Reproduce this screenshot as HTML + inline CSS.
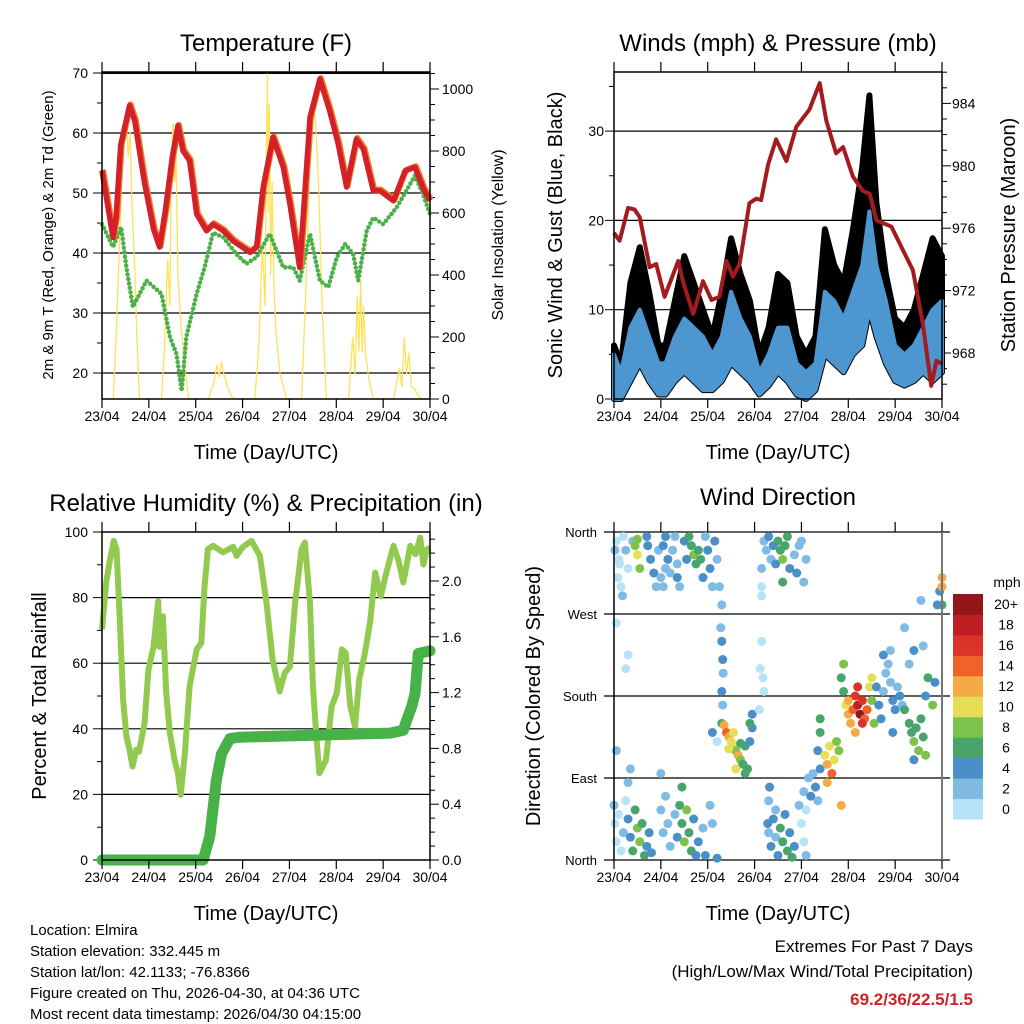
<!DOCTYPE html>
<html><head><meta charset="utf-8"><style>
body{margin:0;background:#fff;}
svg{display:block;font-family:"Liberation Sans",Arial,sans-serif;}
</style></head><body>
<svg id="chart" width="1024" height="1024" viewBox="0 0 1024 1024" xmlns="http://www.w3.org/2000/svg"></svg>
<script>
// ---- Temperature data ----
const tempT=[0,0.235,0.3,0.4,0.59,0.7,0.9,1.1,1.23,1.35,1.5,1.62,1.73,1.87,2.02,2.23,2.37,2.59,2.8,3.16,3.3,3.44,3.65,3.87,4.01,4.22,4.44,4.65,4.86,5.04,5.22,5.43,5.58,5.79,5.93,6.22,6.47,6.68,6.86,7.0];
const tempV=[53.7,42.6,46,58,64.6,62,52,44,41,47,56,61.2,57,55.4,46.5,43.7,44.8,43.7,42,40.1,41,51,59.3,54.3,48.2,37.6,62.6,69,63.7,58.2,51,59,57.3,50.4,50.4,48.7,53.7,54.3,50.7,48.7];
const dewT=[0,0.235,0.41,0.52,0.66,0.95,1.27,1.45,1.59,1.7,1.8,2.02,2.19,2.37,2.59,2.87,3.08,3.3,3.58,3.87,4.08,4.22,4.44,4.65,4.83,5.01,5.19,5.36,5.47,5.65,5.79,6.0,6.29,6.68,6.86,7.0];
const dewV=[44.8,41,44.3,37.6,31,35.4,33.2,26,23.2,17,26,33.2,37.6,43.4,42.6,39.8,38.2,39.3,43.2,37.6,37.6,35.4,43.2,35.4,34.3,39.3,41.5,39.8,35.4,43.7,45.9,44.8,47.6,52.9,49.6,46.5];
const solarT=[0,0.24,0.3,0.36,0.42,0.48,0.52,0.56,0.6,0.64,0.7,0.75,0.8,1.27,1.33,1.4,1.45,1.48,1.52,1.55,1.58,1.62,1.68,1.75,1.85,2.27,2.4,2.45,2.5,2.55,2.6,2.7,2.8,3.26,3.35,3.42,3.48,3.5,3.53,3.55,3.57,3.6,3.63,3.67,3.72,3.8,3.94,4.26,4.35,4.42,4.5,4.55,4.62,4.7,4.79,5.26,5.35,5.4,5.45,5.48,5.52,5.55,5.58,5.62,5.7,5.79,6.22,6.35,6.4,6.45,6.5,6.55,6.6,6.68,6.75,6.82,7.0];
const solarV=[0,0,200,450,700,850,890,780,860,620,420,180,0,0,150,450,300,780,890,700,800,400,250,120,0,0,60,110,70,120,80,30,0,0,180,500,300,700,1050,600,950,400,700,350,200,80,0,0,350,700,900,920,700,300,0,0,200,80,330,150,380,150,300,150,60,0,0,100,40,200,80,150,40,30,10,0,0];
const tempTicks=[20,30,40,50,60,70];
const solarTicks=[0,200,400,600,800,1000];
const dayLabels=["23/04","24/04","25/04","26/04","27/04","28/04","29/04","30/04"];
// ---- Wind data ----
const windT=[0,0.15,0.35,0.55,0.75,0.95,1.1,1.3,1.5,1.7,1.9,2.1,2.3,2.5,2.7,2.9,3.1,3.3,3.5,3.7,3.9,4.1,4.3,4.5,4.7,4.9,5.1,5.3,5.45,5.6,5.8,6.0,6.2,6.4,6.6,6.8,7.0];
const windLo=[0,0,2,4,2,0.5,0.5,2,3,2,1,1,2,4,3,2,0.5,1.5,3,2,0.5,0,1,5,4,3,5,6,10,7,4,2,1.5,2,3,2,3];
const windHi=[5,3,8,10,7,4,4,7,9,8,7,5,7,12,9,7,3,5,8,8,4,3,4,12,11,9,12,15,21,15,11,6,5,6,8,10,11];
const gustHi=[6,4,13,17,12,6,6,11,16,13,10,7,12,18,14,11,5,8,14,13,7,5,7,19,15,13,19,26,34,22,14,9,8,10,14,18,16];
const presT=[0,0.12,0.3,0.44,0.55,0.76,0.9,1.08,1.37,1.47,1.69,1.9,2.08,2.25,2.4,2.54,2.68,2.89,3.04,3.14,3.29,3.46,3.68,3.89,4.17,4.39,4.53,4.74,4.89,5.1,5.31,5.46,5.6,5.92,6.1,6.38,6.59,6.77,6.88,7.0];
const presV=[975.7,975.2,977.3,977.2,976.7,973.5,973.7,971.6,973.9,972.6,970.5,972.6,971.4,971.6,973.9,972.9,973.7,977.6,977.9,977.8,980.1,981.7,980.3,982.5,983.6,985.3,982.9,980.8,981.2,979.3,978.4,978.2,976.5,976.1,975.0,973.3,969.9,965.9,967.5,967.3];
const windTicks=[0,10,20,30];
const presTicks=[968,972,976,980,984];
// ---- RH / precip ----
const rhT=[0,0.09,0.16,0.25,0.31,0.38,0.45,0.52,0.59,0.65,0.73,0.79,0.91,0.99,1.1,1.2,1.23,1.3,1.37,1.45,1.55,1.62,1.68,1.77,1.87,2.02,2.12,2.19,2.26,2.37,2.58,2.8,2.87,3.01,3.19,3.37,3.51,3.64,3.79,3.9,4.01,4.12,4.26,4.33,4.44,4.5,4.58,4.64,4.78,4.9,5.01,5.12,5.2,5.3,5.4,5.49,5.61,5.72,5.83,5.95,6.05,6.22,6.33,6.43,6.58,6.69,6.79,6.86,6.93,7.0];
const rhV=[70.3,84.6,90.7,97.3,94.8,73.3,48.9,37.7,33.6,28.5,33.6,33,41.8,58,65,78.9,65,74.3,50.9,38.7,30.5,26.5,19.9,32.6,53,64.2,66.2,83.5,94.8,95.8,93.8,95.5,92.7,95.5,97.3,92.7,78.4,61.1,51.4,57,59,78.4,94.8,96.8,78.4,53,36.7,26.5,30.5,46.8,50.9,64.2,63.1,46.8,40.7,55,63.1,72.3,87.6,80.4,86.6,95.8,91.2,84.6,95.8,93.2,98.3,90.1,94.7,95.2];
const prT=[0,2.16,2.3,2.44,2.55,2.73,2.94,6.15,6.43,6.5,6.61,6.68,6.75,7.0];
const prV=[0,0,0.17,0.57,0.76,0.87,0.88,0.91,0.93,1.0,1.1,1.19,1.48,1.5];
const rhTicks=[0,20,40,60,80,100];
const prTicks=[0,0.4,0.8,1.2,1.6,2.0];
// ---- Wind direction ----
const dirT=[0.02,0.05,0.1,0.15,0.2,0.25,0.3,0.08,0.12,0.18,0.4,0.45,0.5,0.5,0.55,0.7,0.72,0.78,0.85,0.9,0.95,1.0,1.05,1.1,0.05,0.25,0.3,
0.0,0.02,0.05,0.1,0.15,0.2,0.25,0.3,0.35,0.4,0.45,0.5,0.55,0.6,0.65,0.7,0.75,0.8,0.3,0.35,0.05,
1.05,1.1,1.15,1.2,1.25,1.3,1.35,1.4,1.5,1.6,1.65,1.7,1.75,1.8,1.85,1.9,2.0,2.05,2.1,2.15,2.2,2.25,2.3,1.55,1.95,1.35,
1.0,1.05,1.1,1.15,1.2,1.3,1.35,1.4,1.45,1.5,1.55,1.6,1.65,1.7,1.75,1.8,1.9,1.95,2.05,2.1,2.2,1.0,1.45,
2.28,2.3,2.32,2.33,2.3,2.32,2.2,2.3,2.1,
2.35,2.4,2.45,2.5,2.55,2.6,2.65,2.7,2.75,2.8,2.85,2.9,2.95,2.95,2.9,2.45,2.55,2.7,2.8,2.6,
3.15,3.15,3.12,3.18,3.2,3.1,3.3,3.32,3.28,
3.2,3.25,3.3,3.35,3.4,3.45,3.5,3.55,3.6,3.65,3.7,3.75,3.85,3.9,3.95,4.0,4.05,4.1,3.6,3.15,3.15,
3.3,3.35,3.4,3.45,3.5,3.55,3.6,3.65,3.7,3.75,3.8,3.85,3.45,
3.95,4.0,4.05,4.1,4.15,4.2,4.25,4.3,4.35,4.4,4.35,4.4,4.5,4.55,4.6,4.65,4.7,4.75,4.8,4.55,4.85,4.4,4.05,4.1,
4.85,4.9,4.95,5.0,5.05,5.1,5.15,5.2,5.25,5.3,5.35,5.4,5.45,5.5,5.55,4.9,5.2,5.3,5.0,5.15,5.5,
5.6,5.65,5.7,5.75,5.8,5.85,5.9,5.95,6.0,6.05,6.1,6.15,5.75,5.9,6.2,6.3,6.4,6.6,6.65,6.7,6.8,6.85,5.95,
6.3,6.35,6.4,6.45,6.5,6.55,6.6,6.65,6.4,6.2,
6.95,7.0,7.0,7.0,6.55,6.9];
const dirDeg=[340,350,330,300,355,340,320,310,325,290,350,345,335,352,320,355,345,330,315,300,340,310,300,320,260,210,225,
60,40,20,50,10,30,65,45,25,10,55,35,20,40,5,15,30,8,85,100,120,
345,355,330,315,340,355,325,300,350,355,345,335,325,340,330,310,340,320,300,350,330,300,280,330,355,310,
55,30,70,40,15,50,25,60,40,20,55,30,10,45,5,20,35,5,60,40,2,95,80,
255,240,220,205,185,170,130,150,140,
148,140,135,130,125,120,115,110,105,125,100,130,145,160,150,122,140,128,95,100,
290,240,210,200,185,165,65,80,40,
350,340,355,330,345,325,350,340,330,345,355,320,335,315,345,350,305,330,305,320,300,
30,15,45,25,5,35,20,50,10,30,3,15,55,
60,40,75,55,90,70,95,80,65,100,120,140,115,105,125,95,110,130,120,85,60,155,20,5,
200,185,170,160,150,165,180,170,160,175,155,165,190,175,150,215,190,150,175,140,200,
190,170,155,185,205,215,195,175,165,190,180,170,225,230,255,215,230,235,180,200,170,195,140,
150,140,130,145,120,155,135,115,110,165,
295,310,300,280,285,280];
const dirSpd=[2,1,1,0,1,2,1,0,0,2,3,8,10,8,8,4,4,4,4,2,2,2,2,3,0,1,1,
2,0,1,1,0,2,1,4,4,6,7,8,8,7,6,4,4,4,2,2,3,
4,4,4,3,2,3,2,2,5,6,7,8,7,6,6,5,4,4,3,4,2,2,2,4,2,4,
2,2,3,2,3,2,4,6,7,8,8,6,6,4,5,4,3,4,2,2,4,2,6,
3,4,4,3,4,2,1,6,4,
12,14,12,11,10,9,12,8,7,6,6,5,4,4,6,10,11,6,6,10,
1,1,1,1,1,0,3,4,4,
2,3,4,3,4,4,6,7,8,6,6,4,2,4,2,2,2,3,6,2,1,
3,4,4,3,5,6,6,5,6,4,6,4,2,
2,1,3,1,3,4,2,4,3,4,5,6,11,12,10,15,10,9,8,13,13,6,1,2,
7,7,10,12,12,14,16,18,20,17,15,14,10,8,8,8,16,16,12,12,10,
4,4,4,2,2,2,3,4,4,2,4,2,4,2,2,2,4,2,4,6,8,4,4,
6,7,8,6,8,6,6,8,4,6,
4,12,12,6,2,4];
const dirLabels=["North","East","South","West","North"];
const dirTicks=[0,90,180,270,360];
const cbLabels=["0","2","4","6","8","10","12","14","16","18","20+"];
const cbColors=["#b7e3f8","#80bbe4","#4a8fc7","#48a56c","#7dc24a","#e6df55","#f6aa45","#ef6229","#dc3328","#bf1d24","#921719"];

// ---- helpers ----
const NS="http://www.w3.org/2000/svg";
const svg=document.getElementById('chart');
function mk(tag,attrs,parent){const e=document.createElementNS(NS,tag);for(const k in attrs)e.setAttribute(k,attrs[k]);(parent||svg).appendChild(e);return e;}
function txt(s,x,y,size,anchor,parent,extra){const e=mk('text',Object.assign({x:x,y:y,'font-size':size,'text-anchor':anchor||'middle',fill:'#000'},extra||{}),parent);e.textContent=s;return e;}
const PW=328, DAYW=328/7;
function xD(d,x0){return x0+d*DAYW;}
function poly(xs,ys){return xs.map((x,i)=>x.toFixed(1)+','+ys[i].toFixed(1)).join(' ');}

function xAxis(x0,yTop,yBot,g){
  for(let i=0;i<dayLabels.length;i++){
    const x=xD(i,x0);
    const t1=mk('line',{x1:x,x2:x,y1:yTop-10,y2:yTop,stroke:'#000','stroke-width':1.2},g);
    
    
    const t2=mk('line',{x1:x,x2:x,y1:yBot,y2:yBot+9,stroke:'#000','stroke-width':1.2},g);
    
    
    const l=txt(dayLabels[i],x,yBot+22,14,'middle',g);
    
    
  }
  const at=txt('Time (Day/UTC)',x0+PW/2,yBot+60,20,'middle',g);
  
  
}

// ================= Panel 1: Temperature =================
(function(){
  const g=mk('g',{});
  
  
  const x0=102,yT=72,yB=399;
  const ty=v=>373-(v-20)*6;
  const sy=v=>399-v*0.31;
  const ttl=txt('Temperature (F)',x0+PW/2,51,24,'middle',g);
  
  
  tempTicks.forEach(v=>{
    const gl=mk('line',{x1:x0,x2:x0+PW,y1:ty(v),y2:ty(v),stroke:'#000','stroke-width':v==70?2:1.2},g);
    
    
    const lb=txt(String(v),88,ty(v)+5,14,'end',g);
    
    
  });
  for(let v=20;v<=70;v+=5){const tk=mk('line',{x1:x0-(v%10?5:9),x2:x0,y1:ty(v),y2:ty(v),stroke:'#000'},g);
    
    }
  for(let v=0;v<=1050;v+=50){const tk=mk('line',{x1:x0+PW,x2:x0+PW+(v%200?5:9),y1:sy(v),y2:sy(v),stroke:'#000'},g);
    
    }
  solarTicks.forEach(v=>{const lb=txt(String(v),442,sy(v)+5,14,'start',g);
    
    });
  const sol=mk('polyline',{points:poly(solarT.map(d=>xD(d,x0)),solarV.map(sy)),fill:'none',stroke:'#fde25a','stroke-width':1.3},g);
  
  
  const dew=mk('polyline',{points:poly(dewT.map(d=>xD(d,x0)),dewV.map(ty)),fill:'none',stroke:'#4cb048','stroke-width':4.5,'stroke-dasharray':'0 4.5','stroke-linecap':'round'},g);
  
  
  const t9=mk('polyline',{points:poly(tempT.map(d=>xD(d,x0)+1),tempV.map(v=>ty(v)-1)),fill:'none',stroke:'#f0802c','stroke-width':6,'stroke-linejoin':'round'},g);
  
  
  const t2=mk('polyline',{points:poly(tempT.map(d=>xD(d,x0)),tempV.map(ty)),fill:'none',stroke:'#d42027','stroke-width':5.5,'stroke-linejoin':'round'},g);
  
  
  const fr=mk('rect',{x:x0,y:yT,width:PW,height:yB-yT,fill:'none',stroke:'#000','stroke-width':1.5},g);
  
  
  xAxis(x0,yT,yB,g);
  const yl=txt('2m & 9m T (Red, Orange) & 2m Td (Green)',0,0,15,'middle',g,{transform:'translate(53,235) rotate(-90)'});
  
  
  const yr=txt('Solar Insolation (Yellow)',0,0,16,'middle',g,{transform:'translate(503,235) rotate(-90)'});
  
  
})();

// ================= Panel 2: Winds =================
(function(){
  const g=mk('g',{});
  
  
  const x0=614,yT=72,yB=399;
  const wy=v=>399-v*8.93;
  const py=p=>353-(p-968)*15.6;
  const ttl=txt('Winds (mph) & Pressure (mb)',x0+PW/2,51,24,'middle',g);
  
  
  windTicks.forEach(v=>{
    if(v>0){const gl=mk('line',{x1:x0,x2:x0+PW,y1:wy(v),y2:wy(v),stroke:'#000','stroke-width':1.2},g);
    
    }
    const lb=txt(String(v),604,wy(v)+5,14,'end',g);
    
    
  });
  for(let v=0;v<=36;v+=5){const tk=mk('line',{x1:x0-(v%10?5:9),x2:x0,y1:wy(v),y2:wy(v),stroke:'#000'},g);
    
    }
  for(let p=966;p<=986;p+=1){const tk=mk('line',{x1:x0+PW,x2:x0+PW+(p%4?5:9),y1:py(p),y2:py(p),stroke:'#000'},g);
    
    }
  presTicks.forEach(p=>{const lb=txt(String(p),952,py(p)+5,14,'start',g);
    
    });
  const xs=windT.map(d=>xD(d,x0));
  const gust=mk('polygon',{points:poly(xs.concat(xs.slice().reverse()),gustHi.map(wy).concat(windLo.slice().reverse().map(wy))),fill:'#000',stroke:'#000','stroke-width':6,'stroke-linejoin':'round'},g);
  
  
  const wind=mk('polygon',{points:poly(xs.concat(xs.slice().reverse()),windHi.map(wy).concat(windLo.slice().reverse().map(wy))),fill:'#4d96d0',stroke:'#4d96d0','stroke-width':4,'stroke-linejoin':'round'},g);
  
  
  const pr=mk('polyline',{points:poly(presT.map(d=>xD(d,x0)),presV.map(py)),fill:'none',stroke:'#a31b1e','stroke-width':4,'stroke-linejoin':'round'},g);
  
  
  const fr=mk('rect',{x:x0,y:yT,width:PW,height:yB-yT,fill:'none',stroke:'#000','stroke-width':1.5},g);
  
  
  xAxis(x0,yT,yB,g);
  const yl=txt('Sonic Wind & Gust (Blue, Black)',0,0,20,'middle',g,{transform:'translate(562,235) rotate(-90)'});
  
  
  const yr=txt('Station Pressure (Maroon)',0,0,20,'middle',g,{transform:'translate(1015,235) rotate(-90)'});
  
  
})();

// ================= Panel 3: RH & precip =================
(function(){
  const g=mk('g',{});
  
  
  const x0=102,yT=532,yB=860;
  const ry=v=>860-v*3.28;
  const qy=v=>860-v*139.5;
  const ttl=txt('Relative Humidity (%) & Precipitation (in)',x0+PW/2,511,24,'middle',g);
  
  
  rhTicks.forEach(v=>{
    if(v>0&&v<100){const gl=mk('line',{x1:x0,x2:x0+PW,y1:ry(v),y2:ry(v),stroke:'#000','stroke-width':1.2},g);
    
    }
    const lb=txt(String(v),88,ry(v)+5,14,'end',g);
    
    
  });
  for(let v=0;v<=100;v+=10){const tk=mk('line',{x1:x0-(v%20?5:9),x2:x0,y1:ry(v),y2:ry(v),stroke:'#000'},g);
    
    }
  for(let i=0;i<=23;i++){const v=i/10;const tk=mk('line',{x1:x0+PW,x2:x0+PW+(i%4?5:9),y1:qy(v),y2:qy(v),stroke:'#000'},g);
    
    }
  prTicks.forEach(v=>{const lb=txt(v.toFixed(1),442,qy(v)+5,14,'start',g);
    
    });
  const rh=mk('polyline',{points:poly(rhT.map(d=>xD(d,x0)),rhV.map(ry)),fill:'none',stroke:'#92c94f','stroke-width':6,'stroke-linejoin':'round'},g);
  
  
  const pc=mk('polyline',{points:poly(prT.map(d=>xD(d,x0)),prV.map(qy)),fill:'none',stroke:'#46b247','stroke-width':11,'stroke-linejoin':'round','stroke-linecap':'round'},g);
  
  
  const fr=mk('rect',{x:x0,y:yT,width:PW,height:yB-yT,fill:'none',stroke:'#000','stroke-width':1.5},g);
  
  
  xAxis(x0,yT,yB,g);
  const yl=txt('Percent & Total Rainfall',0,0,20,'middle',g,{transform:'translate(46,696) rotate(-90)'});
  
  
})();

// ================= Panel 4: Wind direction =================
(function(){
  const g=mk('g',{});
  
  
  const x0=614,yT=532,yB=860;
  const dy=v=>860-v*(328/360);
  const ttl=txt('Wind Direction',x0+PW/2,505,24,'middle',g);
  
  
  dirTicks.forEach((v,i)=>{
    const gl=mk('line',{x1:604,x2:950,y1:dy(v),y2:dy(v),stroke:'#000','stroke-width':1.2},g);
    
    
    const lb=txt(dirLabels[i],597,dy(v)+5,13,'end',g);
    
    
  });
  const binColor=s=>cbColors[Math.min(10,Math.max(0,Math.floor(s/2)))];
  for(let i=0;i<dirT.length;i++){
    const c=mk('circle',{cx:xD(dirT[i],x0),cy:dy(dirDeg[i]),r:4.5,fill:binColor(dirSpd[i])},g);
    
    
  }
  const la=mk('line',{x1:x0,x2:x0,y1:yT,y2:yB,stroke:'#000','stroke-width':1.5},g);
  
  
  const ra=mk('line',{x1:x0+PW,x2:x0+PW,y1:yT,y2:yB,stroke:'#777','stroke-width':2},g);
  
  
  xAxis(x0,yT,yB,g);
  const yl=txt('Direction (Colored By Speed)',0,0,20,'middle',g,{transform:'translate(540,696) rotate(-90)'});
  
  
  const cb=mk('g',{},g);
  
  
  const bh=225/11;
  for(let i=0;i<11;i++){
    const y=594+(10-i)*bh;
    const r=mk('rect',{x:953,y:y,width:30,height:bh+0.5,fill:cbColors[i]},cb);
    
    
    const lb=txt(cbLabels[i],1006,y+bh/2+5,14,'middle',cb);
    
    
  }
  const mph=txt('mph',1007,587,14,'middle',cb);
  
  
})();

// ================= Footer =================
(function(){
  const g=mk('g',{});
  
  
  const lines=["Location: Elmira","Station elevation: 332.445 m","Station lat/lon: 42.1133; -76.8366","Figure created on Thu, 2026-04-30, at 04:36 UTC","Most recent data timestamp: 2026/04/30 04:15:00"];
  lines.forEach((s,i)=>{const t=txt(s,30,935+i*21,15,'start',g);
    
    });
  const e=mk('g',{});
  
  
  const a=txt('Extremes For Past 7 Days',973,952,17,'end',e);
  
  
  const b=txt('(High/Low/Max Wind/Total Precipitation)',973,977,17,'end',e);
  
  
  const c=txt('69.2/36/22.5/1.5',973,1005,17,'end',e,{fill:'#d22027','font-weight':'bold'});
  
  
})();
</script>
</body></html>
